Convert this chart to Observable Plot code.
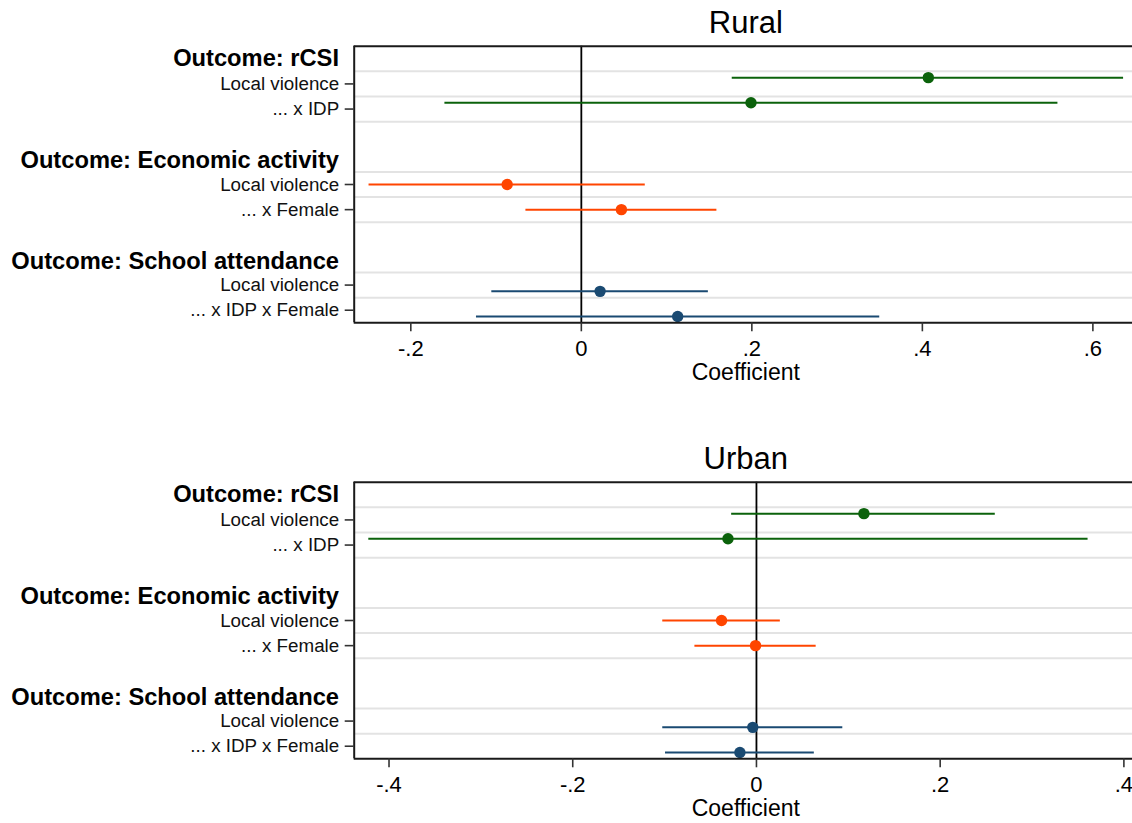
<!DOCTYPE html>
<html>
<head>
<meta charset="utf-8">
<script src="https://cdn.jsdelivr.net/npm/d3@7"></script>
<script src="https://cdn.jsdelivr.net/npm/@observablehq/plot@0.6"></script>
<style>
  html, body { margin: 0; padding: 0; background: #fff; overflow: hidden; }
  #wrap { position: relative; width: 1138px; height: 823px; font-family: "Liberation Sans", Arial, Helvetica, sans-serif; }
  .panel { position: absolute; left: 0; }
  .ttl { position: absolute; text-align: center; color: #000; white-space: nowrap; }
</style>
</head>
<body>
<div id="wrap"></div>
<script>
// ---------- data ----------
const outcomes = ["Outcome: rCSI", "Outcome: Economic activity", "Outcome: School attendance"];
const rowLabels = ["Local violence", "... x IDP", "Local violence", "... x Female", "Local violence", "... x IDP x Female"];
const rowOutcome = [0, 0, 1, 1, 2, 2];
const outcomeColors = ["#0b620b", "#ff4500", "#1a4a72"];

const ruralCoef = [0.407, 0.199, -0.087, 0.047, 0.022, 0.113];
const ruralLo   = [0.177, -0.160, -0.249, -0.065, -0.105, -0.123];
const ruralHi   = [0.636, 0.559, 0.075, 0.159, 0.149, 0.350];

const urbanCoef = [0.117, -0.031, -0.038, -0.001, -0.004, -0.018];
const urbanLo   = [-0.027, -0.422, -0.102, -0.067, -0.102, -0.099];
const urbanHi   = [0.260, 0.361, 0.026, 0.065, 0.094, 0.063];

const ruralTicks = [-0.2, 0, 0.2, 0.4, 0.6];
const ruralTickLabels = ["-.2", "0", ".2", ".4", ".6"];
const urbanTicks = [-0.4, -0.2, 0, 0.2, 0.4];
const urbanTickLabels = ["-.4", "-.2", "0", ".2", ".4"];

const panelTitles = ["Rural", "Urban"];
const axisTitle = "Coefficient";

// ---------- layout ----------
const FONT = '"Liberation Sans", Arial, Helvetica, sans-serif';
const W = 1138, ML = 353.7, MT = 45.7, FH = 276.6, MB = 44;
const H = MT + FH + MB;

function rowIndexInGroup(i) {
  return i - rowOutcome.indexOf(rowOutcome[i]);
}

function makePanel(title, coef, lo, hi, xDomain, ticks, tickLabels, top) {
  const data = coef.map((c, i) => {
    const g = rowOutcome[i];
    const labelPos = 4 * g + 1.5 + rowIndexInGroup(i);
    return {c, lo: lo[i], hi: hi[i], g, labelPos, pos: labelPos + (g - 1) * 0.25, color: outcomeColors[g]};
  });
  const headers = outcomes.map((o, g) => ({text: o, pos: 4.035 * g + 0.5}));
  const grid = d3.range(outcomes.length).flatMap(g => [4 * g + 1, 4 * g + 2, 4 * g + 3]).filter(v => v < 11);
  const labelMap = new Map(data.map((d, i) => [d.labelPos, rowLabels[i]]));
  const tickMap = new Map(ticks.map((t, i) => [t, tickLabels[i]]));

  const chart = Plot.plot({
    width: W, height: H,
    marginLeft: ML, marginRight: 0, marginTop: MT, marginBottom: MB,
    style: {fontFamily: FONT, background: "transparent", overflow: "visible"},
    x: {domain: xDomain, label: null},
    y: {domain: [0, 11], reverse: true, label: null},
    marks: [
      Plot.ruleY(grid, {stroke: "#e3e3e3", strokeWidth: 2}),
      Plot.ruleX([0], {stroke: "#000", strokeWidth: 1.8}),
      Plot.ruleY(data, {y: "pos", x1: "lo", x2: "hi", stroke: "color", strokeWidth: 2}),
      Plot.dot(data, {x: "c", y: "pos", r: 5.7, fill: "color", stroke: "none"}),
      Plot.ruleY([0, 11], {stroke: "#1a1a1a", strokeWidth: 2}),
      Plot.ruleX([xDomain[0]], {stroke: "#1a1a1a", strokeWidth: 2}),
      Plot.axisY({
        ticks: Array.from(labelMap.keys()),
        tickFormat: d => labelMap.get(d),
        tickSize: 9, tickPadding: 6, fontSize: 18.8, stroke: "#333", fill: "#111", strokeWidth: 1.6
      }),
      Plot.text(headers, {
        y: "pos", text: "text", frameAnchor: "left", textAnchor: "end", dx: -15.2,
        fontWeight: "bold", fontSize: 23.7, fill: "#000"
      }),
      Plot.axisX({
        ticks, tickFormat: d => tickMap.get(d),
        tickSize: 9, tickPadding: 9, fontSize: 22, stroke: "#333", fill: "#000", strokeWidth: 1.6
      })
    ]
  });

  const panel = document.createElement("div");
  panel.className = "panel";
  panel.style.top = top + "px";
  panel.appendChild(chart);

  const cx0 = ML, cw = W - ML;
  const t = document.createElement("div");
  t.className = "ttl";
  t.textContent = title;
  t.style.cssText += `left:${cx0}px;width:${cw}px;font-size:31px;line-height:31px;top:${MT - 12.4 - 0.8465 * 31}px;`;
  panel.appendChild(t);

  const a = document.createElement("div");
  a.className = "ttl";
  a.textContent = axisTitle;
  a.style.cssText += `left:${cx0}px;width:${cw}px;font-size:23px;line-height:23px;top:${MT + FH + 58.6 - 0.8465 * 23}px;`;
  panel.appendChild(a);

  document.getElementById("wrap").appendChild(panel);
}

makePanel(panelTitles[0], ruralCoef, ruralLo, ruralHi, [-0.2664, 0.6535], ruralTicks, ruralTickLabels, 0);
makePanel(panelTitles[1], urbanCoef, urbanLo, urbanHi, [-0.4379, 0.4159], urbanTicks, urbanTickLabels, 436);
</script>
</body>
</html>
